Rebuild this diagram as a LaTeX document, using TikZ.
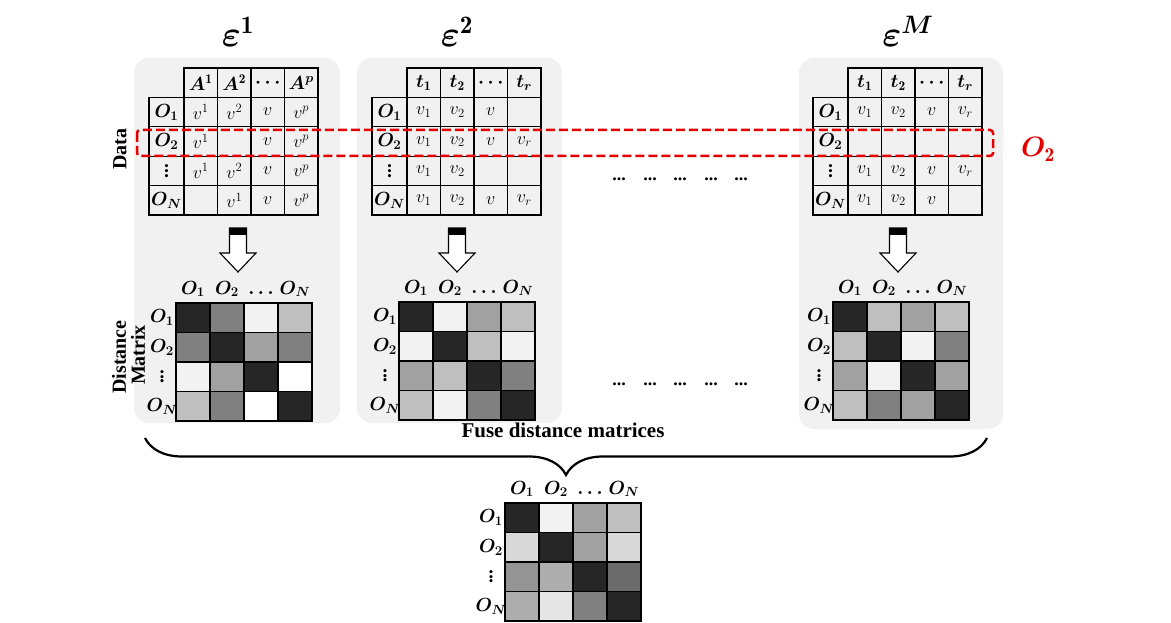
\RequirePackage{fix-cm}
\documentclass[tikz,border=0pt]{standalone}
\usepackage{bm}
\usepackage{fontspec}
\newfontfamily\labelfont{Liberation Serif}
\usetikzlibrary{positioning,decorations.pathreplacing}

\definecolor{panelgray}{gray}{0.945}
\definecolor{gA}{gray}{0.15}
\definecolor{gB}{gray}{0.50}
\definecolor{gC}{gray}{0.63}
\definecolor{gD}{gray}{0.75}
\definecolor{gE}{gray}{0.95}
\definecolor{gF}{gray}{0.85}
\definecolor{gG}{gray}{0.58}
\definecolor{gH}{gray}{0.68}
\definecolor{gI}{gray}{0.42}
\definecolor{gJ}{gray}{0.90}
\definecolor{selred}{RGB}{228,0,0}

\newcommand{\objlab}[1]{\bm{O}_{\bm{#1}}}
\newcommand{\vdotlab}{\raisebox{-0.35em}{\rotatebox{90}{\labelfont\bfseries\fontsize{19}{19}\selectfont ...}}}

\tikzset{
  panel/.style={fill=panelgray,rounded corners=15pt},
  cell/.style={draw=black,line width=1.1pt},
  lab/.style={font=\fontsize{19}{21}\selectfont,inner sep=0pt},
  vallab/.style={font=\fontsize{18}{20}\selectfont,inner sep=0pt},
  epslab/.style={font=\fontsize{36}{36}\selectfont,anchor=base,inner sep=0pt},
  sidelabel/.style={font=\labelfont\bfseries\fontsize{20}{20}\selectfont,rotate=90,inner sep=0pt},
  dotgroup/.style={font=\labelfont\bfseries\fontsize{18}{18}\selectfont,anchor=base,inner sep=0pt},
  blockarrow/.style={draw=black,line width=1.1pt,fill=white},
  selbox/.style={draw=selred,line width=2.5pt,dash pattern=on 9pt off 4pt,rounded corners=3pt},
  fusebrace/.style={decorate,decoration={brace,amplitude=37pt},line width=2.2pt},
}

% data table frame with row labels, #1 = name prefix
\newcommand{\datagrid}[1]{%
  \foreach \col in {0,...,3}
    \draw[cell] (\col*33.5,0) rectangle ++(33.5,29.4);
  \foreach \row in {1,...,4}{
    \draw[cell] (-35,\row*29.4) rectangle ++(35,29.4);
    \foreach \col in {0,...,3}
      \draw[cell] (\col*33.5,\row*29.4) rectangle ++(33.5,29.4);
  }
  \foreach \lab [count=\row] in {\objlab{1},\objlab{2},\vdotlab,\objlab{N}}
    \node[lab] (#1-r\row) at (-17.5,\row*29.4+14.7) {$\lab$};
}

% distance matrix, #1 = name prefix, #2 = cell shades row by row
\newcommand{\distgrid}[2]{%
  \foreach \shade [count=\k from 0] in {#2}{
    \pgfmathtruncatemacro{\row}{\k/4}
    \pgfmathtruncatemacro{\col}{mod(\k,4)}
    \filldraw[cell,fill=\shade] (\col*34,\row*29.5) rectangle ++(34,29.5);
  }
  \foreach \lab [count=\i] in {\objlab{1},\objlab{2},\bm{\dots},\objlab{N}}
    \node[lab,anchor=base] (#1-c\i) at (\i*34-17,-9) {$\lab$};
  \foreach \lab [count=\i] in {\objlab{1},\objlab{2},\vdotlab,\objlab{N}}
    \node[lab] (#1-r\i) at (-14,\i*29.5-14.75) {$\lab$};
}

\newcommand{\downarrowat}[1]{%
  \draw[blockarrow] (#1-8.5,228)--(#1-8.5,253)--(#1-18,253)--(#1,272)--(#1+18,253)--(#1+8.5,253)--(#1+8.5,228)--cycle;
  \fill (#1-8.5,228) rectangle (#1+8.5,235);
}

\begin{document}
\begin{tikzpicture}[x=1pt,y=-1pt]
  \useasboundingbox (0,0) rectangle (1171,623);

  \fill[panel] (134,58) rectangle (340,423);
  \fill[panel] (357,58) rectangle (562,423);
  \fill[panel] (799,58) rectangle (1003,429);

  \node[epslab] (eps1) at (238,47) {$\bm{\varepsilon}^{\mathbf{1}}$};
  \node[epslab] (eps2) at (457,47) {$\bm{\varepsilon}^{\mathbf{2}}$};
  \node[epslab] (epsM) at (908,47) {$\bm{\varepsilon}^{\bm{M}}$};

  \node[sidelabel] (datalab) at (120,149) {Data};
  \node[sidelabel] (distlab) at (119,357) {Distance};
  \node[sidelabel] (matlab) at (138,355) {Matrix};

  \begin{scope}[shift={(184,68)}]
    \datagrid{p1}
    \foreach \lab [count=\col] in {\bm{A}^{\mathbf{1}},\bm{A}^{\mathbf{2}},\bm{\cdots},\bm{A}^{\bm{p}}}
      \node[lab] (p1-h\col) at (\col*33.5-16.75,14.7) {$\lab$};
    \foreach \rowlist [count=\row] in {{v^1,v^2,v,v^p},{v^1,,v,v^p},{v^1,v^2,v,v^p},{,v^1,v,v^p}}
      \foreach \val [count=\col] in \rowlist
        \node[vallab] (p1-\row-\col) at (\col*33.5-16.75,\row*29.4+14.7) {$\val$};
  \end{scope}

  \begin{scope}[shift={(407,68)}]
    \datagrid{p2}
    \foreach \lab [count=\col] in {\bm{t}_{\mathbf{1}},\bm{t}_{\mathbf{2}},\bm{\cdots},\bm{t}_{\bm{r}}}
      \node[lab] (p2-h\col) at (\col*33.5-16.75,14.7) {$\lab$};
    \foreach \rowlist [count=\row] in {{v_1,v_2,v,},{v_1,v_2,v,v_r},{v_1,v_2,,},{v_1,v_2,v,v_r}}
      \foreach \val [count=\col] in \rowlist
        \node[vallab] (p2-\row-\col) at (\col*33.5-16.75,\row*29.4+14.7) {$\val$};
  \end{scope}

  \begin{scope}[shift={(848,68)}]
    \datagrid{p3}
    \foreach \lab [count=\col] in {\bm{t}_{\mathbf{1}},\bm{t}_{\mathbf{2}},\bm{\cdots},\bm{t}_{\bm{r}}}
      \node[lab] (p3-h\col) at (\col*33.5-16.75,14.7) {$\lab$};
    \foreach \rowlist [count=\row] in {{v_1,v_2,v,v_r},{,,,},{v_1,v_2,v,v_r},{v_1,v_2,v,}}
      \foreach \val [count=\col] in \rowlist
        \node[vallab] (p3-\row-\col) at (\col*33.5-16.75,\row*29.4+14.7) {$\val$};
  \end{scope}

  \downarrowat{238}
  \downarrowat{457}
  \downarrowat{898}

  \begin{scope}[shift={(176,303)}]
    \distgrid{dm1}{gA,gB,gE,gD, gB,gA,gC,gB, gE,gC,gA,white, gD,gB,white,gA}
  \end{scope}
  \begin{scope}[shift={(399,302)}]
    \distgrid{dm2}{gA,gE,gC,gD, gE,gA,gD,gE, gC,gD,gA,gB, gD,gE,gB,gA}
  \end{scope}
  \begin{scope}[shift={(833,302)}]
    \distgrid{dm3}{gA,gD,gC,gD, gD,gA,gE,gB, gC,gE,gA,gC, gD,gB,gC,gA}
  \end{scope}
  \begin{scope}[shift={(505,503)}]
    \distgrid{fused}{gA,gE,gC,gD, gF,gA,gC,gF, gG,gH,gA,gI, gH,gJ,gB,gA}
  \end{scope}

  % gaps between the second and the last source
  \foreach \x [count=\k] in {619,650,680,711,741}{
    \node[dotgroup] (gapA\k) at (\x,180.5) {...};
    \node[dotgroup] (gapB\k) at (\x,385.5) {...};
  }

  \draw[selbox] (137,130) rectangle (993,156);
  \node[font=\fontsize{28}{28}\selectfont,text=selred,anchor=base,inner sep=0pt] (sellab) at (1038,157) {$\bm{O}_{\mathbf{2}}$};

  \draw[fusebrace] (987,438) -- (145,438);
  \node[font=\labelfont\bfseries\fontsize{21}{21}\selectfont,inner sep=0pt] (fuselab) at (563,430) {Fuse distance matrices};
\end{tikzpicture}
\end{document}
